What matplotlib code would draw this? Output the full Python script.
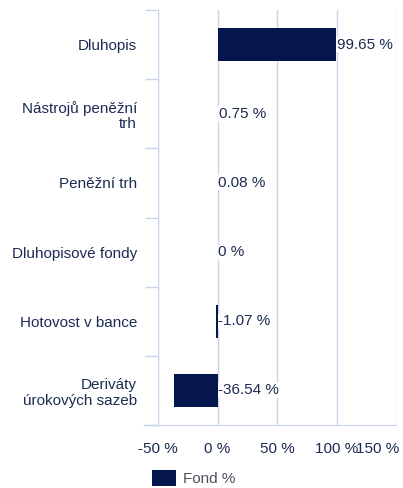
import matplotlib
matplotlib.use("Agg")
import matplotlib.pyplot as plt
from matplotlib.patches import Patch
import matplotlib.transforms as mtransforms
import numpy as np

categories = ["Dluhopis", "Nástrojů peněžní\ntrh", "Peněžní trh",
              "Dluhopisové fondy", "Hotovost v bance", "Deriváty\núrokových sazeb"]
values = [99.65, 0.75, 0.08, 0, -1.07, -36.54]
value_labels = ["99.65 %", "0.75 %", "0.08 %", "0 %", "-1.07 %", "-36.54 %"]
xticks = [-50, 0, 50, 100, 150]
xtick_labels = ["-50 %", "0 %", "50 %", "100 %", "150 %"]
series_name = "Fond %"

BAR = "#05164d"
TXT = "#1c2b52"
GRID = "#c9d5e8"
FS = 11

plt.rcParams["font.family"] = ["Liberation Sans", "DejaVu Sans"]

fig = plt.figure(figsize=(4.03, 4.88), dpi=100)
ax = fig.add_axes([158/403, 1-425/488, (396-158)/403, (425-10)/488])

y = np.arange(len(categories))
ax.barh(y, values, height=0.48, color=BAR, zorder=3)
ax.set_ylim(len(categories)-0.5, -0.5)
ax.set_xlim(-50, 150)

for yi, v, lab in zip(y, values, value_labels):
    ax.text(max(v, 0) + 0.4, yi, lab, ha="left", va="center", fontsize=FS,
            color=TXT, zorder=4,
            bbox=dict(facecolor="white", edgecolor="none", pad=0.3))

ax.set_yticks(y)
ax.set_yticklabels(categories, fontsize=FS, color=TXT)
ax.tick_params(axis="y", which="major", length=0, pad=15)
ax.set_yticks(np.arange(-0.5, len(categories)), minor=True)
ax.tick_params(axis="y", which="minor", length=9.5, width=1, color=GRID, direction="out")

ax.set_xticks(xticks)
ax.set_xticklabels(xtick_labels, fontsize=FS, color=TXT)
ax.tick_params(axis="x", length=0, pad=12)
last = ax.get_xticklabels()[-1]
last.set_ha("right")
last.set_transform(last.get_transform() + mtransforms.ScaledTranslation(3/100, 0, fig.dpi_scale_trans))

ax.grid(axis="x", color=GRID, linewidth=1, zorder=0)
ax.set_axisbelow(True)
for s in ["top", "right"]:
    ax.spines[s].set_visible(False)
ax.spines["left"].set_color(GRID)
ax.spines["bottom"].set_color(GRID)

fig.add_artist(plt.Line2D([144/403, 158/403], [1-425/488, 1-425/488], color=GRID, lw=1))

handles = [Patch(facecolor=BAR, edgecolor="none")]
fig.legend(handles, [series_name], loc="center left", bbox_to_anchor=(138/403, 1-478/488),
           frameon=False, fontsize=FS, handlelength=1.6, handleheight=1.3,
           handletextpad=0.45, labelcolor="#4a4f5c")

fig.canvas.draw()
for tick in ax.yaxis.get_major_ticks():
    tick.label1.set_horizontalalignment("right")
    tick.label1.set_multialignment("right")
    tick.label1.set_linespacing(1.15)

fig.savefig("out.png", dpi=100)
